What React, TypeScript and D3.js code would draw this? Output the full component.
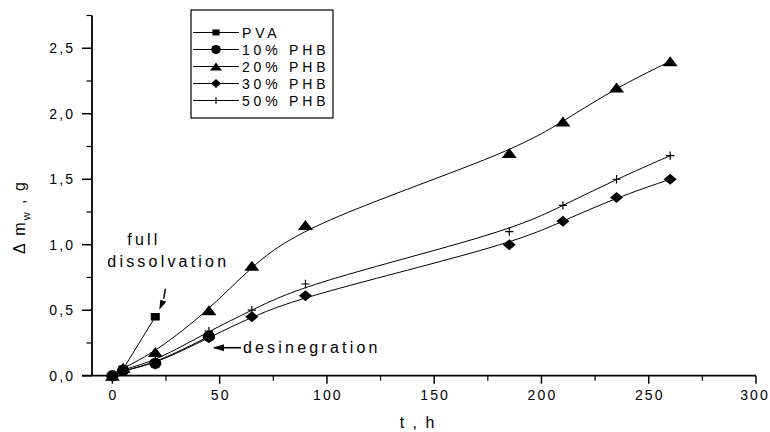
import React from 'react';
import * as d3 from 'd3';

const timeFull = [0, 5, 20, 45, 65, 90, 185, 210, 235, 260];
const timePVA = [0, 5, 20];
const timePHB10 = [0, 5, 20, 45];
const valuesPVA = [0, 0.05, 0.45];
const valuesPHB10 = [0, 0.04, 0.095, 0.3];
const valuesPHB20 = [0, 0.06, 0.18, 0.5, 0.84, 1.15, 1.7, 1.94, 2.2, 2.4];
const valuesPHB30 = [0, 0.04, 0.09, 0.29, 0.45, 0.61, 1.0, 1.18, 1.36, 1.5];
const valuesPHB50 = [0, 0.05, 0.11, 0.34, 0.5, 0.7, 1.1, 1.3, 1.5, 1.68];
const seriesNames = ['PVA', '10% PHB', '20% PHB', '30% PHB', '50% PHB'];
const seriesMarkers = ['square', 'circle', 'triangle', 'diamond', 'plus'];
const xTicks = [0, 50, 100, 150, 200, 250, 300];
const xMinorTicks = [25, 75, 125, 175, 225, 275];
const yTicks = [0, 0.5, 1.0, 1.5, 2.0, 2.5];
const yMinorTicks = [0.25, 0.75, 1.25, 1.75, 2.25, 2.75];

const FONT = "'Liberation Sans', Arial, Helvetica, sans-serif";

function Marker({ kind, cx, cy, s = 1 }: { kind: string; cx: number; cy: number; s?: number }) {
  if (kind === 'square') {
    const w = 9 * s, h = 7.5 * s;
    return <rect x={cx - w / 2} y={cy - h / 2} width={w} height={h} fill="#000" />;
  }
  if (kind === 'circle') {
    return <ellipse cx={cx} cy={cy} rx={6 * s} ry={5.6 * s} fill="#000" />;
  }
  if (kind === 'triangle') {
    const w = 15 * s, h = 10 * s;
    const p = `M${cx},${cy - h / 2}L${cx + w / 2},${cy + h / 2}L${cx - w / 2},${cy + h / 2}Z`;
    return <path d={p} fill="#000" />;
  }
  if (kind === 'diamond') {
    const w = 13 * s, h = 11 * s;
    const p = `M${cx},${cy - h / 2}L${cx + w / 2},${cy}L${cx},${cy + h / 2}L${cx - w / 2},${cy}Z`;
    return <path d={p} fill="#000" />;
  }
  const r = 4.2 * s;
  return (
    <path d={`M${cx - r},${cy}H${cx + r}M${cx},${cy - r}V${cy + r}`} stroke="#000" strokeWidth={1.2} fill="none" />
  );
}

export default function App() {
  const x = d3.scaleLinear().domain([-9.5, 300]).range([92, 756]);
  const y = d3.scaleLinear().domain([0, 2.75]).range([375.7, 15.5]);

  const series = [
    { t: timePVA, v: valuesPVA, curve: d3.curveLinear },
    { t: timePHB10, v: valuesPHB10, curve: d3.curveBasis },
    { t: timeFull, v: valuesPHB20, curve: d3.curveBasis },
    { t: timeFull, v: valuesPHB30, curve: d3.curveBasis },
    { t: timeFull, v: valuesPHB50, curve: d3.curveBasis },
  ];

  const fmt = (d: number) => d3.format('.1f')(d).replace('.', ',');
  const axisX0 = x(-9.5);
  const axisY0 = y(0);

  const tickFont = { fontFamily: FONT, fontSize: 14, letterSpacing: 2.1 } as any;
  const annFont = { fontFamily: FONT, fontSize: 16, letterSpacing: 3.2 } as any;

  const pvaX = x(timePVA[2]);
  const pvaY = y(valuesPVA[2]);
  const disX = x(timeFull[3]);
  const disY = y(valuesPHB30[3]);

  const legendX = 191;
  const legendY = 10;
  const legendRow0 = 32.5;
  const legendStep = 17;

  return (
    <svg width={770} height={432} style={{ position: 'absolute', left: 0, top: 0, background: '#fff' }}>
      <rect x={0} y={0} width={770} height={432} fill="#fff" />
      <line x1={axisX0} x2={axisX0} y1={y(2.75)} y2={axisY0} stroke="#000" strokeWidth={1.8} />
      <line x1={axisX0 - 10} x2={x(300)} y1={axisY0} y2={axisY0} stroke="#000" strokeWidth={1.8} />
      {xTicks.map((d) => (
        <g key={'xt' + d}>
          <line x1={x(d)} x2={x(d)} y1={axisY0} y2={axisY0 + 8} stroke="#000" strokeWidth={1.5} />
          <text x={x(d)} y={400} textAnchor="middle" dx={d === 300 ? -1 : 1} style={tickFont}>{d}</text>
        </g>
      ))}
      {xMinorTicks.map((d) => (
        <line key={'xm' + d} x1={x(d)} x2={x(d)} y1={axisY0} y2={axisY0 + 5} stroke="#000" strokeWidth={1.2} />
      ))}
      {yTicks.map((d) => (
        <g key={'yt' + d}>
          <line x1={axisX0 - 10} x2={axisX0} y1={y(d)} y2={y(d)} stroke="#000" strokeWidth={1.5} />
          <text x={73 + 2.1} y={y(d) + 5} textAnchor="end" style={tickFont}>{fmt(d)}</text>
        </g>
      ))}
      {yMinorTicks.map((d) => (
        <line key={'ym' + d} x1={axisX0 - 5.5} x2={axisX0} y1={y(d)} y2={y(d)} stroke="#000" strokeWidth={1.2} />
      ))}
      <text x={418} y={428} textAnchor="middle" style={{ fontFamily: FONT, fontSize: 16, letterSpacing: 2 } as any}>t , h</text>
      <text transform="translate(25,217) rotate(-90)" textAnchor="middle" style={{ fontFamily: FONT, fontSize: 16, letterSpacing: 2 } as any}>
        Δ m<tspan dy={5} fontSize={11}>w</tspan><tspan dy={-5}> , g</tspan>
      </text>
      {series.map((s, i) => {
        const line = d3
          .line<number>()
          .x((_, j) => x(s.t[j]))
          .y((d) => y(d))
          .curve(s.curve);
        return <path key={'l' + i} d={line(s.v) || ''} fill="none" stroke="#000" strokeWidth={1} />;
      })}
      {series.map((s, i) =>
        s.v.map((d, j) => <Marker key={'m' + i + '-' + j} kind={seriesMarkers[i]} cx={x(s.t[j])} cy={y(d)} />)
      )}
      <text x={pvaX - 28} y={pvaY - 72} style={annFont}>full</text>
      <text x={pvaX - 48} y={pvaY - 50} style={annFont}>dissolvation</text>
      <path d={`M${pvaX + 10},${pvaY - 28} L${pvaX + 8.5},${pvaY - 18}`} stroke="#000" strokeWidth={1.5} fill="none" />
      <path d={`M${pvaX + 4},${pvaY - 7} L${pvaX + 5},${pvaY - 17} L${pvaX + 11},${pvaY - 15} Z`} fill="#000" />
      <line x1={disX + 5} x2={disX + 32} y1={disY + 10} y2={disY + 10} stroke="#000" strokeWidth={1.6} />
      <path d={`M${disX + 4},${disY + 10} L${disX + 15},${disY + 6.5} L${disX + 15},${disY + 13.5} Z`} fill="#000" />
      <text x={disX + 34} y={disY + 15.5} style={annFont}>desinegration</text>
      <rect x={legendX} y={legendY} width={142} height={108} fill="#fff" stroke="#000" strokeWidth={1.2} />
      {seriesNames.map((name, i) => {
        const cy = legendRow0 + i * legendStep;
        return (
          <g key={'lg' + i}>
            <line x1={legendX + 2} x2={legendX + 48} y1={cy} y2={cy} stroke="#000" strokeWidth={1} />
            <Marker kind={seriesMarkers[i]} cx={legendX + 25} cy={cy} s={0.8} />
            <text x={legendX + 51} y={cy + 5} style={{ fontFamily: FONT, fontSize: 14, letterSpacing: 3.8 } as any}>{name}</text>
          </g>
        );
      })}
    </svg>
  );
}
